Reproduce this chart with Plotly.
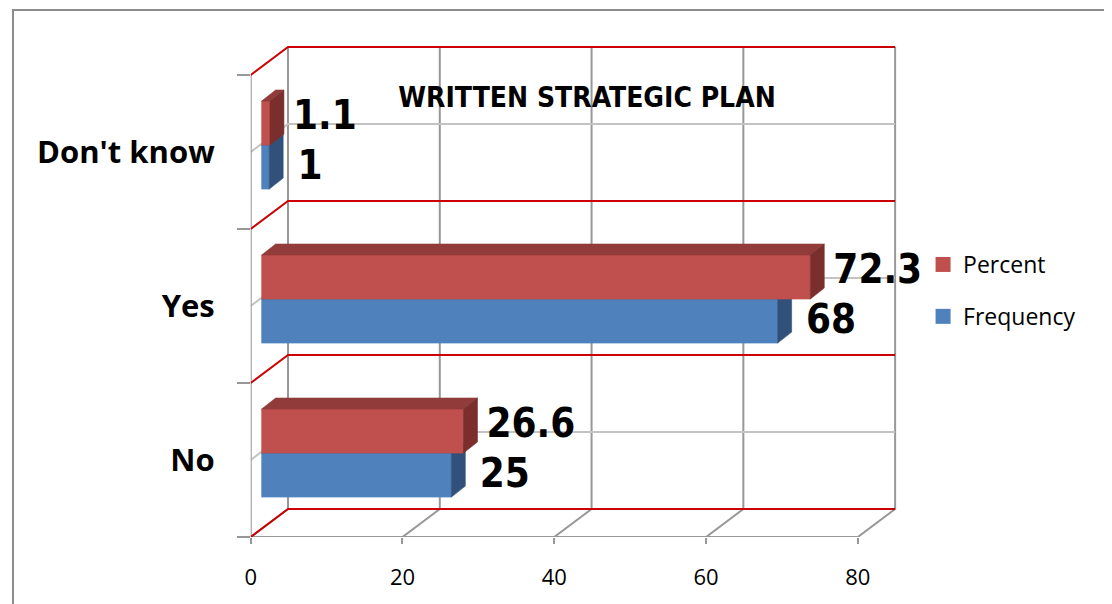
import plotly.graph_objects as go

# ---------------- data ----------------
categories = ["No", "Yes", "Don't know"]
frequency = [25, 68, 1]
percent = [26.6, 72.3, 1.1]
x_ticks = [0, 20, 40, 60, 80]
series_names = ["Percent", "Frequency"]
title_text = "WRITTEN STRATEGIC PLAN"

# ---------------- style / geometry constants ----------------
W, H = 1112, 604
OFF_X, OFF_Y = 12, 8  # page offset compensation (px)
PX_X = 7.63           # pixels per value unit
PX_Y = 154.0          # pixels per category
X0_PX, X1_PX = 250 - OFF_X, 935 - OFF_X
YB_PX, YT_PX = 537 - OFF_Y, 38 - OFF_Y
x_max = (X1_PX - X0_PX) / PX_X
y_min = -0.5
y_max = -0.5 + (YB_PX - YT_PX) / PX_Y

DX = 37.5 / PX_X     # wall depth (x)
DY = 28.0 / PX_Y     # wall depth (y)
BX0 = 11.0 / PX_X    # bar front start
BDX = 14.0 / PX_X    # bar depth x
BDY = 11.0 / PX_Y    # bar depth y
BSPLIT = 0.045
BH = 0.286

RED_LINE = "#CC0000"
GRAY = "#979797"
LGRAY = "#C3C3C3"
RED = ["#C0504D", "#913C3A", "#7A2F2D"]      # front, top, side
BLUE = ["#4F81BD", "#3B6496", "#31517A"]

LABEL_FONT = "DejaVu Sans Condensed, Liberation Sans Narrow, sans-serif"

pos = list(range(len(categories)))
bounds = [p - 0.5 for p in pos] + [pos[-1] + 0.5]
x_lo = x_ticks[0]
x_hi = x_ticks[-1]

fig = go.Figure()


def add_line(xs, ys, color, width=2):
    fig.add_trace(go.Scatter(x=xs, y=ys, mode="lines", line=dict(color=color, width=width),
                             hoverinfo="skip", showlegend=False))


# ---- floor diagonals and back wall verticals (gray)
xs, ys = [], []
for t in x_ticks:
    xs += [t, t + DX, t + DX, None]
    ys += [bounds[0], bounds[0] + DY, bounds[-1] + DY, None]
add_line(xs, ys, GRAY)

# ---- mid-category gridlines (light gray): left wall diagonal + back wall horizontal
xs, ys = [], []
for p in pos:
    xs += [x_lo, x_lo + DX, x_hi + DX, None]
    ys += [p, p + DY, p + DY, None]
add_line(xs, ys, LGRAY)

# ---- axis lines (front)
add_line([x_hi, x_lo, x_lo], [bounds[0], bounds[0], bounds[-1]], GRAY)

# ---- category boundary lines (red)
xs, ys = [], []
for b in bounds:
    xs += [x_lo, x_lo + DX, x_hi + DX, None]
    ys += [b, b + DY, b + DY, None]
add_line(xs, ys, RED_LINE)


# ---- 3D bars
def add_bars(values, lo, colors):
    fx, fy, tx, ty, sx, sy = [], [], [], [], [], []
    for p, v in zip(pos, values):
        x0, x1 = BX0, BX0 + v
        y0, y1 = p + lo, p + lo + BH
        fx += [x0, x1, x1, x0, x0, None]
        fy += [y0, y0, y1, y1, y0, None]
        tx += [x0, x1, x1 + BDX, x0 + BDX, x0, None]
        ty += [y1, y1, y1 + BDY, y1 + BDY, y1, None]
        sx += [x1, x1 + BDX, x1 + BDX, x1, x1, None]
        sy += [y0, y0 + BDY, y1 + BDY, y1, y0, None]
    for (X, Y), c in zip([(fx, fy), (tx, ty), (sx, sy)], colors):
        fig.add_trace(go.Scatter(x=X, y=Y, mode="lines", fill="toself", fillcolor=c,
                                 line=dict(color=c, width=0.6), hoverinfo="skip",
                                 showlegend=False))


add_bars(frequency, BSPLIT - BH, BLUE)
add_bars(percent, BSPLIT, RED)

# ---- data labels
LBL_GAP = {"Percent": 1.2, "Frequency": 1.9}
LBL_DY = {"Percent": 0.215, "Frequency": -0.11}
for name, vals in zip(series_names, [percent, frequency]):
    fig.add_trace(go.Scatter(
        x=[BX0 + v + BDX + LBL_GAP[name] for v in vals],
        y=[p + LBL_DY[name] for p in pos],
        text=[f"{v:g}" for v in vals],
        mode="text", textposition="middle right", cliponaxis=False,
        textfont=dict(family=LABEL_FONT, size=40, color="black", weight="bold"),
        hoverinfo="skip", showlegend=False))

# ---- legend entries
for name, col in zip(series_names, [RED[0], BLUE[0]]):
    fig.add_trace(go.Scatter(x=[None], y=[None], mode="markers", name=name, legendgroup=name,
                             marker=dict(symbol="square", size=15, color=col)))

fig.update_layout(
    width=W, height=H, autosize=False,
    margin=dict(l=0, r=0, t=0, b=0),
    paper_bgcolor="white", plot_bgcolor="rgba(0,0,0,0)",
    title=dict(text=title_text, x=(591 - OFF_X) / W, y=1 - (97 - OFF_Y) / H,
               xanchor="center", yanchor="middle",
               font=dict(family=LABEL_FONT, size=28, color="black", weight="bold")),
    legend=dict(x=(926 - OFF_X) / W, y=1 - (243 - OFF_Y) / H, xanchor="left", yanchor="top",
                font=dict(family="Open Sans", size=23, color="black"),
                tracegroupgap=19, bgcolor="rgba(0,0,0,0)"),
    xaxis=dict(domain=[X0_PX / W, X1_PX / W], range=[0, x_max], tickvals=x_ticks,
               ticks="outside", ticklen=6, tickwidth=2, tickcolor=GRAY,
               showgrid=False, zeroline=False, showline=False, ticklabelstandoff=15,
               tickfont=dict(family="Open Sans", size=22, color="black")),
    yaxis=dict(domain=[(H - YB_PX) / H, (H - YT_PX) / H], range=[y_min, y_max],
               tickvals=pos, ticktext=categories, ticks="",
               minor=dict(tickvals=bounds, ticks="outside", ticklen=13, tickwidth=2,
                          tickcolor=GRAY, showgrid=False),
               showgrid=False, zeroline=False, showline=False, ticklabelstandoff=35,
               tickfont=dict(family="Open Sans", size=31, color="black", weight="bold")),
    shapes=[dict(type="rect", xref="paper", yref="paper", x0=(11 - OFF_X) / W, x1=1.05,
                 y0=-0.05, y1=1 - (10 - OFF_Y) / H, line=dict(color="#8C8C8C", width=2),
                 fillcolor="rgba(0,0,0,0)", layer="below")],
)

fig.write_html("out.html")
